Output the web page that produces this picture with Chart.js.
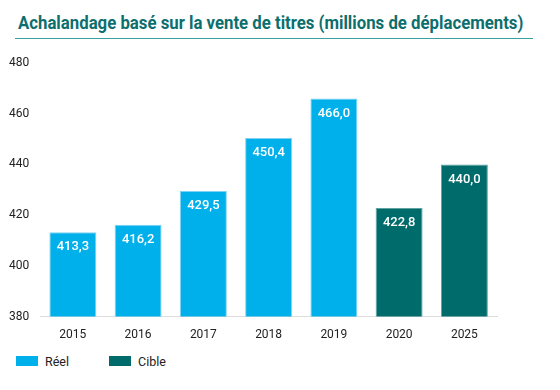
<!DOCTYPE html>
<html>
<head>
<meta charset="utf-8">
<script src="https://cdn.jsdelivr.net/npm/chart.js@4"></script>
<style>
  body { margin: 0; background: #fff; font-family: Roboto, sans-serif; }
  #wrap { width: 560px; height: 390px; position: relative; }
  #title {
    position: absolute; left: 18px; top: 12px; white-space: nowrap;
    color: #0d6e6e; font-size: 18px; font-weight: bold; transform-origin: left top;
  }
  #rule { position: absolute; left: 15px; top: 38px; width: 518px; height: 0; border-top: 1.5px solid #3a9f9f; }
  #box { position: absolute; left: 0; top: 51px; width: 560px; height: 302px; }
  #legend { position: absolute; left: 16px; top: 354px; font-size: 12.5px; color: #222; }
  #legend span.item { display: inline-block; margin-right: 40px; }
  #legend span.sw { display: inline-block; width: 22px; height: 10px; margin-right: 7px; vertical-align: 0px; }
</style>
</head>
<body>
<div id="wrap">
  <div id="title">Achalandage basé sur la vente de titres (millions de déplacements)</div>
  <div id="rule"></div>
  <div id="box"><canvas id="chart"></canvas></div>
  <div id="legend"></div>
</div>
<script>
  const years = ['2015', '2016', '2017', '2018', '2019', '2020', '2025'];
  const reel = [413.3, 416.2, 429.5, 450.4, 466.0, null, null];
  const cible = [null, null, null, null, null, 422.8, 440.0];

  const FONT = 'Roboto, sans-serif';

  // squeeze the title to the width it has in the original
  const title = document.getElementById('title');
  title.style.transform = 'scaleX(' + (505 / title.offsetWidth) + ')';

  // labels written inside the top of each bar
  const barLabels = {
    id: 'barLabels',
    afterDatasetsDraw(chart) {
      const ctx = chart.ctx;
      ctx.save();
      ctx.fillStyle = '#fff';
      ctx.font = '500 13px ' + FONT;
      ctx.textAlign = 'center';
      ctx.textBaseline = 'middle';
      chart.data.datasets.forEach((ds, i) => {
        chart.getDatasetMeta(i).data.forEach((bar, j) => {
          const v = ds.data[j];
          if (v == null) return;
          ctx.fillText(v.toFixed(1).replace('.', ','), bar.x, bar.y + 15);
        });
      });
      ctx.restore();
    }
  };

  const chart = new Chart(document.getElementById('chart'), {
    type: 'bar',
    data: {
      labels: years,
      datasets: [
        { label: 'Réel', data: reel, backgroundColor: '#00b0ea', borderColor: '#7fd3f2', borderWidth: 1, grouped: false, barPercentage: 0.72, categoryPercentage: 1 },
        { label: 'Cible', data: cible, backgroundColor: '#006b6b', borderColor: '#5fa3a3', borderWidth: 1, grouped: false, barPercentage: 0.72, categoryPercentage: 1 }
      ]
    },
    options: {
      responsive: true,
      maintainAspectRatio: false,
      animation: false,
      layout: { padding: { left: 6, right: 63, top: 12, bottom: 8 } },
      plugins: {
        legend: { display: false },
        tooltip: { enabled: false }
      },
      scales: {
        x: {
          grid: { display: false },
          border: { color: '#ddd', width: 1 },
          ticks: { color: '#222', padding: 3, font: { family: FONT, size: 12 } }
        },
        y: {
          min: 380,
          max: 480,
          ticks: { stepSize: 20, color: '#222', padding: 3, font: { family: FONT, size: 12 } },
          grid: { display: false },
          border: { display: false }
        }
      }
    },
    plugins: [barLabels]
  });

  // html legend built from the datasets
  document.getElementById('legend').innerHTML = chart.data.datasets.map(ds =>
    '<span class="item"><span class="sw" style="background:' + ds.backgroundColor + '"></span>' + ds.label + '</span>'
  ).join('');
</script>
</body>
</html>
